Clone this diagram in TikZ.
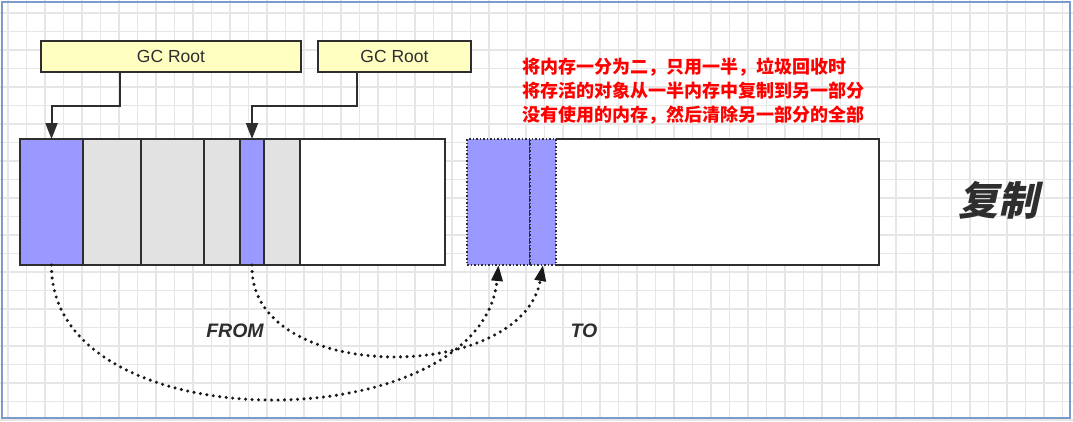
\documentclass[tikz,border=0pt]{standalone}
\usepackage{fontspec}
\setmainfont{Liberation Sans}
\newfontfamily\cjk{Noto Sans CJK SC}
\newfontfamily\cjkslant[FakeSlant=0.22]{Noto Sans CJK SC}
\usetikzlibrary{arrows.meta}
\definecolor{live}{HTML}{9999FF}
\definecolor{dead}{HTML}{E2E2E2}
\definecolor{rootfill}{HTML}{FFFFC2}
\definecolor{ink}{HTML}{2E2E2E}
\definecolor{gridc}{HTML}{E6E6E6}
\definecolor{framec}{HTML}{7C9BCB}
\tikzset{
  cell/.style={draw=ink, line width=2pt, inner sep=0pt, outer sep=0pt, anchor=north west, minimum height=126pt},
  dotcell/.style={draw=ink, line width=1.6pt, dash pattern=on 1.5pt off 2pt, inner sep=0pt, outer sep=0pt, anchor=north west, minimum height=126pt, fill=live},
  gcroot/.style={draw=ink, line width=2pt, fill=rootfill, inner sep=0pt, anchor=north west, minimum height=31pt, font=\fontsize{17.5}{19}\selectfont, text=ink},
  conn/.style={draw=ink, line width=2pt, -{Triangle[length=16pt,width=12pt]}},
  copyarrow/.style={draw=black!90, line width=3.4pt, line cap=round, dash pattern=on 0pt off 6.5pt, -{Triangle[length=16pt,width=11pt,line cap=butt]}},
  label/.style={font=\bfseries\itshape\fontsize{19.5}{22}\selectfont, text=ink}
}
\begin{document}
\begin{tikzpicture}[x=1pt,y=-1pt]
\useasboundingbox (0,0) rectangle (1073,421);
\fill[white] (0,0) rectangle (1073,421);
\begin{scope}[shift={(8,13)}]
\draw[gridc, line width=1.1pt, step=18.5pt] (-8,-13) grid (1065,408);
\end{scope}
\draw[framec, line width=2pt] (1.5,1.5) rectangle (1070,418);

% FROM space
\node[cell, fill=white, minimum width=425pt] (from) at (20,139) {};
\node[cell, fill=live, minimum width=63pt] (f1) at (20,139) {};
\node[cell, fill=dead, minimum width=58pt] (f2) at (83,139) {};
\node[cell, fill=dead, minimum width=63pt] (f3) at (141,139) {};
\node[cell, fill=dead, minimum width=36pt] (f4) at (204,139) {};
\node[cell, fill=live, minimum width=24pt] (f5) at (240,139) {};
\node[cell, fill=dead, minimum width=36pt] (f6) at (264,139) {};

% TO space
\node[inner sep=0pt, outer sep=0pt, anchor=north west, fill=white, minimum width=412pt, minimum height=126pt] (to) at (467,139) {};
\node[dotcell, minimum width=63pt] (t1) at (467,139) {};
\node[dotcell, minimum width=26pt] (t2) at (530,139) {};
\draw[ink, line width=2pt] (t2.north east) -- (to.north east) -- (to.south east) -- (t2.south east);

% GC roots
\node[gcroot, minimum width=260pt] (gc1) at (40,40) {GC Root};
\node[gcroot, minimum width=153pt] (gc2) at (317,40) {GC Root};
\draw[conn] ([xshift=80pt]gc1.south west) |- ([yshift=33pt]f1.north) -- (f1.north);
\draw[conn] ([xshift=40pt]gc2.south west) |- ([yshift=33pt]f5.north) -- (f5.north);

% copy arrows
\draw[copyarrow] (f1.south) .. controls (50,445) and (482,440) .. (t1.south);
\draw[copyarrow] (f5.south) .. controls (248,385) and (522,385) .. (t2.south);

% labels
\node[label] (fromlbl) at (235,331) {FROM};
\node[label] (tolbl) at (584,331) {TO};
\node[anchor=north west, align=left, inner sep=0pt, text=red, font=\cjk\bfseries\fontsize{18}{24}\selectfont] (note) at (522,58)
  {将内存一分为二，只用一半，垃圾回收时\\将存活的对象从一半内存中复制到另一部分\\没有使用的内存，然后清除另一部分的全部};
\node[text=ink, font=\cjkslant\bfseries\fontsize{40}{44}\selectfont] (title) at (998,200) {复制};
\end{tikzpicture}
\end{document}
